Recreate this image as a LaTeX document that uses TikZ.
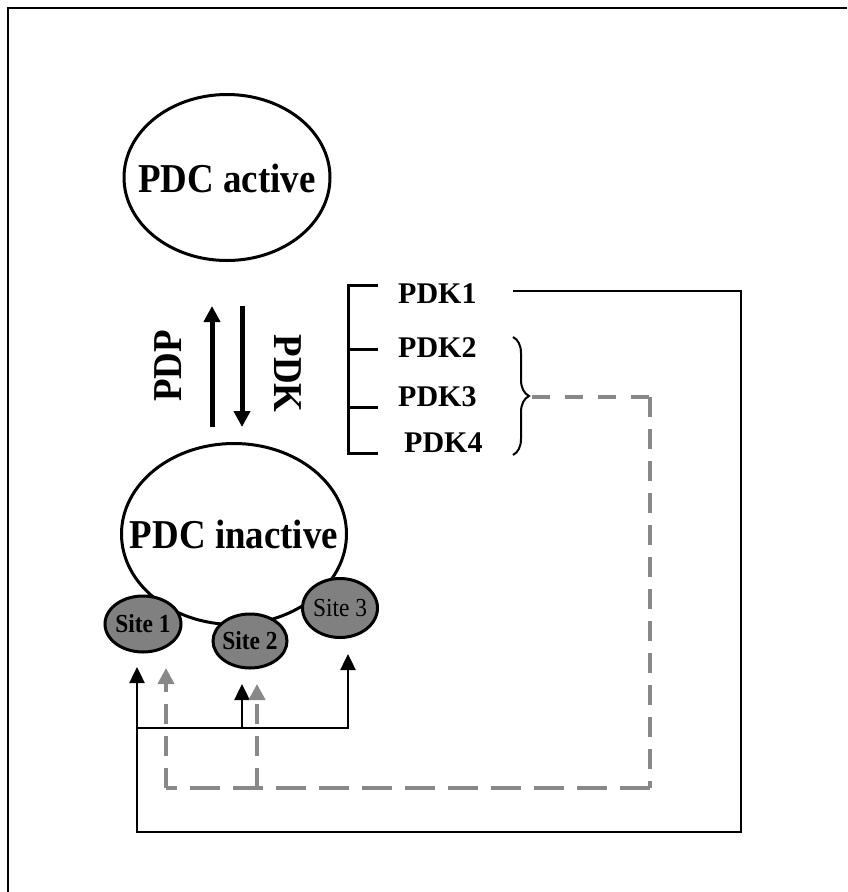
\documentclass[tikz,border=0pt]{standalone}
\usepackage{fontspec}
\setmainfont{Liberation Serif}
\newfontfamily\tallserif[FakeStretch=0.9]{Liberation Serif}
\usetikzlibrary{shapes.geometric, arrows.meta, decorations.pathreplacing}
\definecolor{sitegray}{RGB}{128,128,128}
\definecolor{dashgray}{RGB}{136,136,136}
\begin{document}
\begin{tikzpicture}[x=1pt,y=-1pt,
  big/.style={ellipse, draw, line width=3pt, inner sep=0pt},
  bigtext/.style={inner sep=0pt, font=\tallserif\bfseries\fontsize{41}{44}\selectfont},
  site/.style={ellipse, draw, line width=3pt, fill=sitegray, inner sep=0pt},
  sitetext/.style={inner sep=0pt, font=\tallserif\fontsize{26}{28}\selectfont},
  pdk/.style={anchor=west, inner sep=0pt, font=\bfseries\fontsize{30}{32}\selectfont},
  rlabel/.style={inner sep=0pt, font=\tallserif\bfseries\fontsize{41}{44}\selectfont},
  thinline/.style={line width=2.5pt},
  bracketline/.style={line width=3pt},
  tipblack/.style={-{Triangle[width=15pt,length=16pt]}},
  tipgray/.style={-{Triangle[width=16pt,length=16pt,fill=dashgray,color=dashgray]}},
  bigarrow/.style={line width=5pt, -{Triangle[width=16pt,length=16pt]}},
  dashv/.style={draw=dashgray, line width=4pt, dash pattern=on 20pt off 12pt},
  dashh/.style={draw=dashgray, line width=4pt, dash pattern=on 30pt off 13pt},
  dasht/.style={draw=dashgray, line width=4pt, dash pattern=on 18pt off 15pt},
]
\useasboundingbox (0,0) rectangle (847,892);
\draw[line width=2.5pt] (8,892) -- (8,8) -- (847,8);

% main ellipses
\node[big, minimum width=206pt, minimum height=166pt] (active) at (227,177.5) {};
\node[bigtext] (activet) at ([yshift=-1pt]active.center) {PDC active};
\node[big, minimum width=225pt, minimum height=181pt] (inactive) at (234,534) {};
\node[bigtext] (inactivet) at (inactive.center) {PDC inactive};

% sites
\node[site, minimum width=76pt, minimum height=56pt] (s1) at (143,624) {};
\node[sitetext, font=\tallserif\bfseries\fontsize{26}{28}\selectfont] (s1t) at (s1.center) {Site 1};
\node[site, minimum width=74pt, minimum height=54pt] (s2) at (250,641) {};
\node[sitetext, font=\tallserif\bfseries\fontsize{26}{28}\selectfont] (s2t) at (s2.center) {Site 2};
\node[site, minimum width=75pt, minimum height=59pt] (s3) at (340,608) {};
\node[sitetext] (s3t) at (s3.center) {Site 3};

% PDP / PDK arrows
\coordinate (pdpS) at (212,427);
\coordinate (pdpE) at (212,306);
\coordinate (pdkS) at (242,306);
\coordinate (pdkE) at (242,427);
\draw[bigarrow] (pdpS) -- (pdpE);
\draw[bigarrow] (pdkS) -- (pdkE);
\node[rlabel, rotate=90] (pdp) at (168.5,366) {PDP};
\node[rlabel, rotate=-90] (pdkl) at (287.5,373.5) {PDK};

% PDK list
\node[pdk] (k1) at (398,294) {PDK1};
\node[pdk] (k2) at (398,347.5) {PDK2};
\node[pdk] (k3) at (398,397) {PDK3};
\node[pdk] (k4) at (404,443) {PDK4};

% bracket
\coordinate (b1) at (348,285);
\coordinate (b4) at (348,453);
\draw[bracketline] (378,285) -- (b1) -- (b4) -- (378,453);
\draw[bracketline] (348,349) -- (378,349);
\draw[bracketline] (348,407) -- (378,407);

% brace
\coordinate (brT) at (513,337);
\coordinate (brB) at (513,455);
\draw[line width=2pt, decorate, decoration={brace, amplitude=16pt}] (brT) -- (brB);

% PDK1 solid loop
\coordinate (p1s) at (513,291);
\coordinate (p1c) at (741,291);
\coordinate (p1d) at (741,832);
\coordinate (p1e) at (137,832);
\coordinate (t1) at (137,667);
\draw[thinline, line join=miter, tipblack] (p1s) -- (p1c) -- (p1d) -- (p1e) -- (t1);

% small black connector
\coordinate (j1) at (137,728);
\coordinate (j3) at (348,728);
\coordinate (t3) at (348,654);
\coordinate (j2) at (242,728);
\coordinate (t2) at (242,684);
\draw[thinline, line join=miter, tipblack] (j1) -- (j3) -- (t3);
\draw[thinline, tipblack] (j2) -- (t2);

% gray dashed loop
\coordinate (g0) at (532,397);
\coordinate (g1) at (650,397);
\coordinate (g2) at (650,788);
\coordinate (g3) at (166,788);
\coordinate (gt1) at (166,668);
\coordinate (g4) at (257,788);
\coordinate (gt2) at (257,684);
\draw[dasht] (g0) -- (g1);
\draw[dashv] (g1) -- (g2);
\draw[dashh] (g2) -- (g3);
\draw[dashv, tipgray] (g3) -- (gt1);
\draw[dashv, tipgray] (g4) -- (gt2);
\end{tikzpicture}
\end{document}
